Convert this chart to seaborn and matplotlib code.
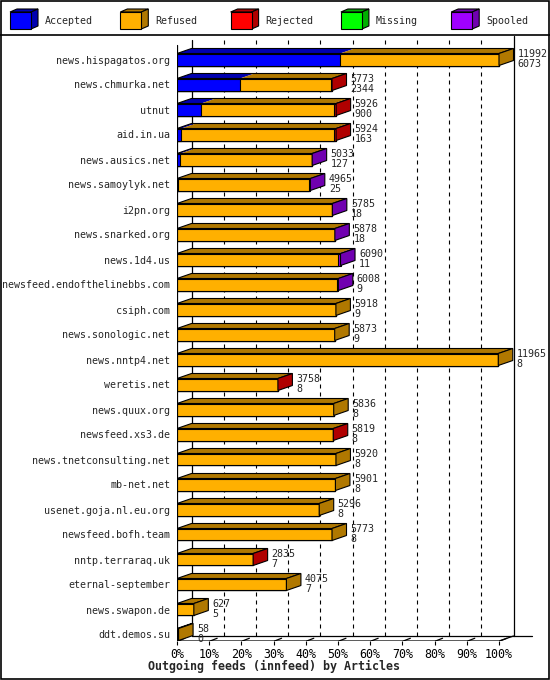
import numpy as np
import pandas as pd
import matplotlib
matplotlib.use('Agg')
import matplotlib.pyplot as plt
import seaborn as sns
from matplotlib.patches import Polygon, Rectangle

# ============================================================
# DATA  (innfeed outgoing feeds, articles)
# ============================================================

feeds = [
    'news.hispagatos.org', 'news.chmurka.net', 'utnut', 'aid.in.ua',
    'news.ausics.net', 'news.samoylyk.net', 'i2pn.org', 'news.snarked.org',
    'news.1d4.us', 'newsfeed.endofthelinebbs.com', 'csiph.com',
    'news.sonologic.net', 'news.nntp4.net', 'weretis.net', 'news.quux.org',
    'newsfeed.xs3.de', 'news.tnetconsulting.net', 'mb-net.net',
    'usenet.goja.nl.eu.org', 'newsfeed.bofh.team', 'nntp.terraraq.uk',
    'eternal-september', 'news.swapon.de', 'ddt.demos.su',
]

accepted = [6073, 2344, 900, 163, 127, 25, 18, 18, 11, 9, 9, 9,
            8, 8, 8, 8, 8, 8, 8, 8, 7, 7, 5, 0]
refused = [5919, 3404, 4936, 5681, 4891, 4890, 5757, 5850, 5999, 5939, 5909, 5864,
           11957, 3740, 5828, 5801, 5912, 5893, 5288, 5765, 2818, 4068, 622, 58]
rejected = [0, 25, 90, 80, 0, 0, 0, 0, 0, 0, 0, 0,
            0, 10, 0, 10, 0, 0, 0, 0, 10, 0, 0, 0]
missing = [0, 0, 0, 0, 0, 0, 0, 0, 0, 0, 0, 0,
           0, 0, 0, 0, 0, 0, 0, 0, 0, 0, 0, 0]
spooled = [0, 0, 0, 0, 15, 50, 10, 10, 80, 60, 0, 0,
           0, 0, 0, 0, 0, 0, 0, 0, 0, 0, 0, 0]

SEGMENTS = ['Accepted', 'Refused', 'Rejected', 'Missing', 'Spooled']
FRONT = ['#0000FF', '#FFB000', '#FF0000', '#00FF00', '#A000FF']
DARK = ['#0000B0', '#B07800', '#B00000', '#00B000', '#7000B0']

df = pd.DataFrame({
    'feed': feeds,
    'Accepted': accepted,
    'Refused': refused,
    'Rejected': rejected,
    'Missing': missing,
    'Spooled': spooled,
})
df['Offered'] = df[SEGMENTS].sum(axis=1)

scale = 100.0 / df['Offered'].max()
pct = df[SEGMENTS] * scale
cum = pct.cumsum(axis=1)

# ============================================================
# GEOMETRY  (pixel layout of the 550x680 picture)
# ============================================================

W, H = 550, 680
AX_L, AX_R, AX_T, AX_B = 177, 549, 36, 641
PX_X = 3.22        # pixels per percent
PX_Y = 25.0        # pixels per row
n = len(feeds)

x_max = (AX_R - AX_L) / PX_X
y_bot = (n - 1) + 6.5 / PX_Y
y_top = y_bot - (AX_B - AX_T) / PX_Y

dx = 14.5 / PX_X   # 3D depth
dy = 5.0 / PX_Y
h = 0.48           # bar front height in rows
back_top = y_top + 4 / PX_Y
back_base = y_bot - dy

sns.set_theme(style='white')
plt.rcParams['font.family'] = ['DejaVu Sans Mono']

fig = plt.figure(figsize=(W / 100, H / 100), dpi=100)

# background layer in pixel coordinates
bg = fig.add_axes([0, 0, 1, 1], zorder=0)
bg.set_xlim(0, W)
bg.set_ylim(H, 0)
bg.axis('off')
bg.add_patch(Rectangle((0.5, 0.5), W - 1.5, H - 1.5, fill=False, ec='black', lw=1.2))
bg.plot([0, W], [35, 35], color='black', lw=1.2)

# legend with 3D boxes
for i, name in enumerate(SEGMENTS):
    x0 = 10 + i * 110.3
    y0, bw, bh, ldx, ldy = 12, 21, 17, 7, 3
    bg.add_patch(Polygon([(x0, y0), (x0 + ldx, y0 - ldy), (x0 + bw + ldx, y0 - ldy), (x0 + bw, y0)],
                         fc=DARK[i], ec='black', lw=0.8))
    bg.add_patch(Polygon([(x0 + bw, y0), (x0 + bw + ldx, y0 - ldy), (x0 + bw + ldx, y0 + bh - ldy), (x0 + bw, y0 + bh)],
                         fc=DARK[i], ec='black', lw=0.8))
    bg.add_patch(Rectangle((x0, y0), bw, bh, fc=FRONT[i], ec='black', lw=0.8))
    bg.text(x0 + 35, 20.5, name, fontsize=7.2, va='center', ha='left')

bg.text(274, 666, 'Outgoing feeds (innfeed) by Articles', fontsize=8.4,
        fontweight='bold', ha='center', va='center')

# ============================================================
# BARS
# ============================================================

ax = fig.add_axes([AX_L / W, (H - AX_B) / H, (AX_R - AX_L) / W, (AX_B - AX_T) / H], zorder=1)
ax.patch.set_alpha(0)

for i in reversed(range(len(SEGMENTS))):
    sns.barplot(x=cum[SEGMENTS[i]], y=df['feed'], orient='h', color=FRONT[i],
                saturation=1, width=h, edgecolor='black', linewidth=0.8,
                errorbar=None, zorder=3, ax=ax)

for r in range(n):
    top = r - h / 2
    bot = r + h / 2
    left = 0.0
    last = 1
    for i, col in enumerate(SEGMENTS):
        w = pct[col].iloc[r]
        if w <= 0:
            continue
        ax.add_patch(Polygon([(left, top), (left + w, top), (left + w + dx, top - dy), (left + dx, top - dy)],
                             fc=DARK[i], lw=0, zorder=3))
        left += w
        last = i
    ax.add_patch(Polygon([(0, top), (left, top), (left + dx, top - dy), (dx, top - dy)],
                         fill=False, ec='black', lw=0.8, zorder=4))
    ax.add_patch(Polygon([(left, top), (left + dx, top - dy), (left + dx, bot - dy), (left, bot)],
                         fc=DARK[last], ec='black', lw=0.8, zorder=4))
    ax.text(left + dx + 4 / PX_X, r - 0.02,
            f"{df['Offered'].iloc[r]}\n{df['Accepted'].iloc[r]}",
            fontsize=7.2, ha='left', va='center', linespacing=1.05, zorder=5)

# walls, grid and axis lines
for k in range(1, 10):
    ax.plot([10 * k + dx, 10 * k + dx], [back_top, back_base], color='black',
            lw=0.8, dashes=(3.6, 3.6), zorder=1)
ax.plot([dx, dx], [back_top, back_base], color='black', lw=0.9, zorder=1)
ax.plot([100 + dx, 100 + dx], [y_top, back_base], color='black', lw=0.9, zorder=1)
ax.plot([0, 0], [back_top + dy, y_bot], color='black', lw=0.9, zorder=2)
ax.plot([dx, 100 + dx + 18 / PX_X], [back_base, back_base], color='black', lw=0.9, zorder=1)
ax.plot([0, 100, 100 + dx], [y_bot, y_bot, back_base], color='black', lw=0.9, zorder=2)
for k in range(11):
    ax.plot([10 * k + 1 / PX_X, 10 * k + 0.55 * dx], [y_bot, y_bot - 0.55 * dy],
            color='black', lw=0.9, zorder=2)

ax.set_xlim(0, x_max)
ax.set_ylim(y_bot, y_top)
ax.set_xticks(np.arange(0, 101, 10))
ax.set_xticklabels([f'{v}%' for v in range(0, 101, 10)], fontsize=8.4)
ax.tick_params(axis='x', length=3, width=0.8, pad=2, colors='black', bottom=True)
ax.tick_params(axis='y', length=0, pad=5, labelsize=7.2)
ax.set_xlabel('')
ax.set_ylabel('')
for s in ax.spines.values():
    s.set_visible(False)

fig.savefig('out.png', dpi=100)
